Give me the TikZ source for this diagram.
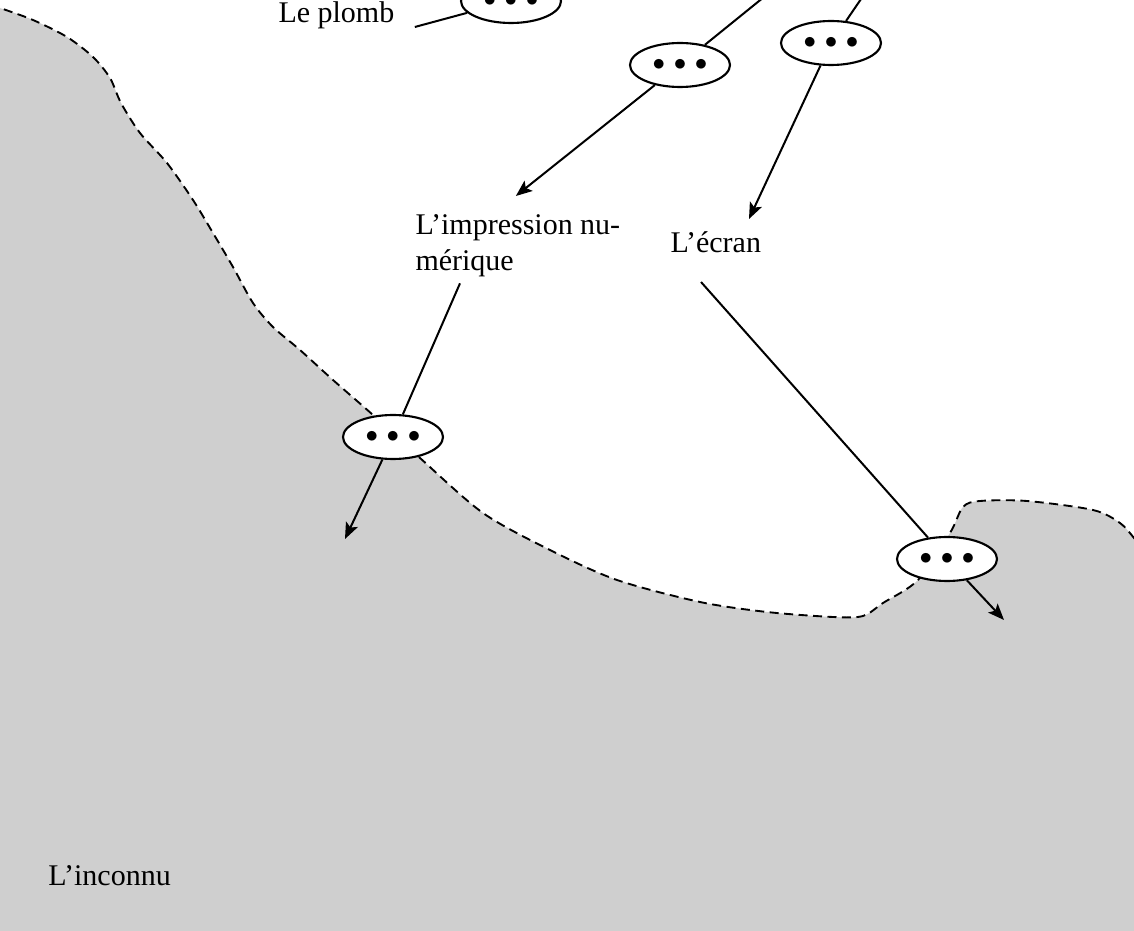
\documentclass[tikz,border=0pt]{standalone}
\usepackage{fontspec}
\setmainfont{Liberation Serif}
\usetikzlibrary{shapes.geometric,arrows.meta,positioning}
\newcommand{\threedots}{{\fontsize{9.7}{9.7}\selectfont$\bullet\kern1.2pt\bullet\kern1.2pt\bullet$}}

\begin{document}
\begin{tikzpicture}[x=0.4pt, y=-0.4pt,
    unknown/.style={fill=black!19},
    frontier/.style={line width=0.75pt, dash pattern=on 3.6pt off 2.2pt},
    proc/.style={ellipse, draw, line width=0.85pt, fill=white, minimum width=40pt,
      minimum height=17.6pt, inner sep=0pt},
    lbl/.style={font=\fontsize{12}{14.4}\selectfont, inner sep=0pt},
    link/.style={line width=0.8pt},
    flow/.style={line width=0.8pt, -{Stealth[length=6.5pt,width=5.2pt,inset=1.4pt]}}]
  \clip (0,0) rectangle (1134,931);
  % region of the unknown
  \filldraw[unknown, frontier] plot[smooth] coordinates {(-10,5) (0,8) (33,20)
      (67,37) (93,57) (110,78) (121,103) (140,133) (167,163) (193,200)
      (213,233) (233,267) (253,303) (273,327) (300,350) (333,380) (373,415)
      (420,458) (483,513) (550,550) (617,580) (700,602) (767,612) (833,617)
      (863,616) (883,603) (918,580) (950,533) (963,507) (980,501) (1027,501)
      (1093,510) (1120,523) (1134,538) (1145,552)}
    -- (1145,945) -- (-10,945) -- cycle;

  \node[lbl, anchor=base west] (plomb) at (278,23) {Le plomb};
  \node[proc] (e1) at (511,1) {\threedots};
  \node[proc] (e2) at (680,65) {\threedots};
  \node[proc] (e3) at (831,43) {\threedots};
  \node[lbl, align=left, anchor=north west] (impr) at (415,214)
    {L'impression nu-\\mérique};
  \node[lbl, anchor=base west] (ecran) at (670,253) {L'écran};
  \node[proc] (e4) at (393,437) {\threedots};
  \node[proc] (e5) at (947,559) {\threedots};
  \node[lbl, anchor=base west] (inconnu) at (48,885) {L'inconnu};

  \coordinate (t2) at (785,-20);
  \coordinate (t3) at (874,-20);
  \coordinate (c4) at (345,539);
  \coordinate (c5) at (1004,620);

  \draw[link] ([shift={(20,4)}]plomb.base east) -- (e1);
  \draw[link] (t2) -- (e2);
  \draw[flow] (e2) -- ([shift={(-2,-18)}]impr.north);
  \draw[link] (t3) -- (e3);
  \draw[flow] (e3) -- ([shift={(79,-34)}]ecran.base west);
  \draw[link] ([shift={(45,6)}]impr.south west) -- (e4);
  \draw[flow] (e4) -- (c4);
  \draw[link] ([shift={(31,29)}]ecran.base west) -- (e5);
  \draw[flow] (e5) -- (c5);
\end{tikzpicture}
\end{document}
